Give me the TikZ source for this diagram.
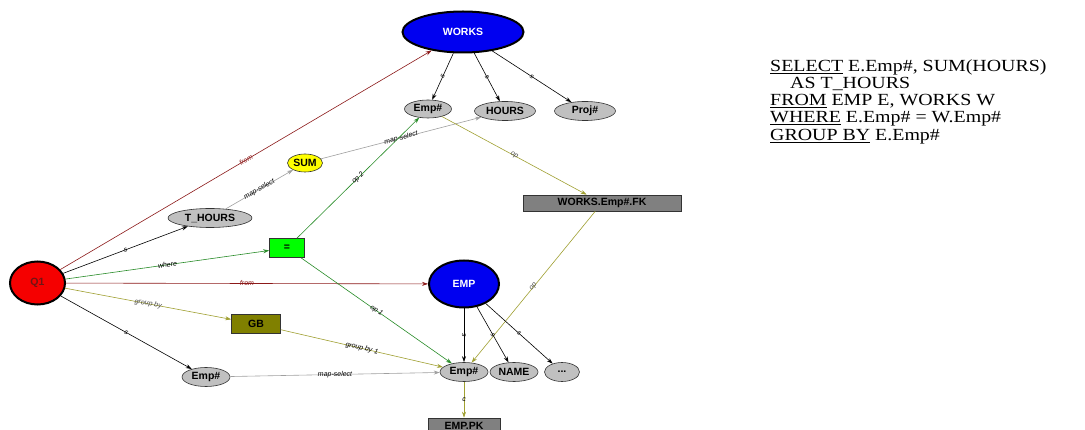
\documentclass[tikz,border=0pt]{standalone}
\usepackage{fontspec}
\setmainfont{Liberation Serif}
\setsansfont{Liberation Sans}
\usetikzlibrary{shapes.geometric,arrows.meta}
\definecolor{lgray}{RGB}{192,192,192}
\definecolor{dgray}{RGB}{128,128,128}
\definecolor{maroonc}{RGB}{140,25,25}
\definecolor{egreen}{RGB}{40,140,40}
\definecolor{eolive}{RGB}{160,160,50}
\definecolor{egray}{RGB}{160,160,160}
\definecolor{bigblue}{RGB}{0,0,240}
\definecolor{qred}{RGB}{245,0,0}
\definecolor{gbfill}{RGB}{128,128,0}
\definecolor{eqfill}{RGB}{0,255,0}
\definecolor{yel}{RGB}{255,255,0}
\begin{document}
\begin{tikzpicture}[x=1pt,y=-1pt,
  nfont/.style={font=\sffamily\bfseries\fontsize{10.5}{12}\selectfont},
  ell/.style={ellipse,draw=black!80,fill=lgray,inner sep=0pt,nfont,line width=0.6pt},
  big/.style={ellipse,draw=black,line width=2pt,inner sep=0pt,nfont},
  box/.style={rectangle,draw=black!80,inner sep=0pt,nfont,line width=0.6pt},
  e/.style={-{Stealth[length=6pt,width=4pt]},line width=0.6pt},
  lbl/.style={sloped,inner sep=0pt,font=\sffamily\itshape\fontsize{7}{7}\selectfont},
  sql/.style={anchor=base west,inner sep=0pt,font=\fontsize{17}{17}\selectfont}
]
\useasboundingbox[fill=white] (0,0) rectangle (1085,430);

% main nodes
\node[big,fill=qred,text=maroonc!80!black,minimum width=55pt,minimum height=43pt] (q1) at (37.5,283) {Q1};
\node[big,fill=bigblue,text=white,minimum width=121pt,minimum height=41pt] (works) at (463,32) {WORKS};
\node[big,fill=bigblue,text=white,minimum width=70pt,minimum height=47pt] (emp) at (464,284) {EMP};

% WORKS children
\node[ell,minimum width=47pt,minimum height=18pt] (wemp) at (428,109) {Emp\#};
\node[ell,minimum width=61pt,minimum height=19pt] (hours) at (505,111) {HOURS};
\node[ell,minimum width=61pt,minimum height=19pt] (proj) at (585,111) {Proj\#};

% other nodes
\node[ell,fill=yel,minimum width=35pt,minimum height=18pt] (sum) at (305,163) {SUM};
\node[ell,minimum width=84pt,minimum height=19pt] (thours) at (210,218) {T\_HOURS};
\node[box,fill=eqfill,minimum width=35pt,minimum height=19pt] (eq) at (287,248) {=};
\node[box,fill=gbfill,minimum width=49pt,minimum height=19pt] (gb) at (256,324) {GB};
\node[ell,minimum width=48pt,minimum height=19pt] (qemp) at (206,377) {Emp\#};
\node[box,fill=dgray,minimum width=158pt,minimum height=16pt] (fk) at (602,203) {WORKS.Emp\#.FK};

% EMP children
\node[ell,minimum width=48pt,minimum height=19pt] (eemp) at (464,372) {Emp\#};
\node[ell,minimum width=48pt,minimum height=19pt] (name) at (514,372) {NAME};
\node[ell,minimum width=35pt,minimum height=19pt] (dots) at (562,372) {...};
\node[box,fill=dgray,minimum width=72pt,minimum height=16pt] (pk) at (464,426) {EMP.PK};

% edges from Q1
\draw[e,maroonc] (q1) -- node[lbl,text=maroonc]{from} (works);
\draw[e,black] (q1) -- node[lbl]{s} (thours);
\draw[e,egreen] (q1) -- node[lbl,text=black]{where} (eq);
\draw[e,maroonc] (q1) -- node[lbl,text=maroonc]{from} (emp);
\draw[e,eolive] (q1) -- node[lbl,text=black!70]{group by} (gb);
\draw[e,black] (q1) -- node[lbl]{s} (qemp);

% map-select
\draw[e,egray] (thours) -- node[lbl,text=black]{map-select} (sum);
\draw[e,egray] (sum) -- node[lbl,text=black,pos=0.5]{map-select} (hours);
\draw[e,egray] (qemp) -- node[lbl,text=black]{map-select} (eemp);

% operands
\draw[e,egreen] (eq) -- node[lbl,text=black]{op 2} (wemp);
\draw[e,egreen] (eq) -- node[lbl,text=black]{op 1} (eemp);
\draw[e,eolive] (gb) -- node[lbl,text=black]{group by 1} (eemp);
\draw[e,eolive] (wemp) -- node[lbl,text=black!70]{op} (fk);
\draw[e,eolive] (fk) -- node[lbl,text=black!70]{op} (eemp);

% schema edges
\draw[e,black] (works) -- node[lbl]{s} (wemp);
\draw[e,black] (works) -- node[lbl]{s} (hours);
\draw[e,black] (works) -- node[lbl]{s} (proj);
\draw[e,black] (emp) -- node[lbl]{s} (eemp);
\draw[e,black] (emp) -- node[lbl]{s} (name);
\draw[e,black] (emp) -- node[lbl]{s} (dots);
\draw[e,eolive] (eemp) -- node[lbl,sloped=false,text=black]{c} (pk);

% SQL text
\node[sql,xscale=1.17] (s1) at (770,72) {\underline{SELECT} E.Emp\#, SUM(HOURS)};
\node[sql,xscale=1.17] (s2) at (790,89) {AS T\_HOURS};
\node[sql,xscale=1.17] (s3) at (770,106) {\underline{FROM} EMP E, WORKS W};
\node[sql,xscale=1.17] (s4) at (770,123) {\underline{WHERE} E.Emp\# = W.Emp\#};
\node[sql,xscale=1.17] (s5) at (770,141) {\underline{GROUP BY} E.Emp\#};
\end{tikzpicture}
\end{document}
